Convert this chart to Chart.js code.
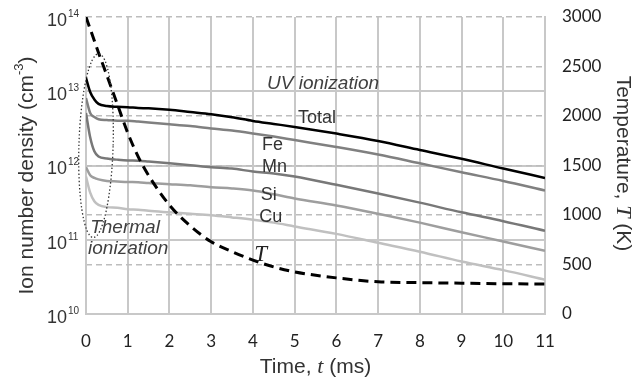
<!DOCTYPE html>
<html>
<head>
<meta charset="utf-8">
<script src="https://cdn.jsdelivr.net/npm/chart.js@4.4.1/dist/chart.umd.min.js"></script>
<style>
  html, body { margin: 0; padding: 0; background: #fff; }
  #wrap { width: 644px; height: 382px; }
</style>
</head>
<body>
<div id="wrap"><canvas id="ionChart"></canvas></div>
<script>
// time (ms)
const times = [0, 0.1, 0.2, 0.3, 0.5, 0.75, 1, 1.25, 1.5, 2, 2.5, 3, 3.5, 4, 4.5, 5, 6, 7, 8, 9, 10, 11];
// ion number density (cm^-3)
const total = [1.51e13, 9.77e12, 7.76e12, 6.76e12, 6.31e12, 6.17e12, 6.1e12, 5.96e12, 5.89e12, 5.62e12, 5.25e12, 4.9e12, 4.47e12, 3.98e12, 3.63e12, 3.31e12, 2.69e12, 2.14e12, 1.62e12, 1.23e12, 9.1e11, 6.8e11];
const fe = [8.1e12, 5.1e12, 4.5e12, 4.2e12, 4.1e12, 4.0e12, 4.0e12, 3.9e12, 3.8e12, 3.6e12, 3.4e12, 3.16e12, 2.95e12, 2.7e12, 2.45e12, 2.2e12, 1.78e12, 1.41e12, 1.07e12, 8.1e11, 6.2e11, 4.6e11];
const mn = [5.1e12, 2.4e12, 1.55e12, 1.32e12, 1.24e12, 1.2e12, 1.17e12, 1.16e12, 1.13e12, 1.07e12, 1.01e12, 9.5e11, 9.1e11, 8.3e11, 7.8e11, 7.1e11, 5.5e11, 4.2e11, 3.16e11, 2.34e11, 1.78e11, 1.32e11];
const si = [9.5e11, 7.4e11, 6.8e11, 6.5e11, 6.2e11, 6.1e11, 6.0e11, 5.96e11, 5.8e11, 5.6e11, 5.4e11, 5.1e11, 4.9e11, 4.6e11, 4.1e11, 3.6e11, 2.9e11, 2.24e11, 1.7e11, 1.26e11, 9.5e10, 7.1e10];
const cu = [7.1e11, 4.3e11, 3.3e11, 2.95e11, 2.75e11, 2.7e11, 2.57e11, 2.54e11, 2.45e11, 2.34e11, 2.24e11, 2.14e11, 2.0e11, 1.86e11, 1.7e11, 1.51e11, 1.2e11, 9.1e10, 6.9e10, 5.1e10, 3.9e10, 2.9e10];
// temperature (K)
const temp = [3000, 2880, 2760, 2640, 2410, 2120, 1830, 1590, 1400, 1100, 890, 730, 630, 545, 475, 425, 365, 325, 317, 311, 306, 303];

const xTicks = [0, 1, 2, 3, 4, 5, 6, 7, 8, 9, 10, 11];
const densityTicks = [1e10, 1e11, 1e12, 1e13, 1e14];
const tempTicks = [0, 500, 1000, 1500, 2000, 2500, 3000];

const pts = arr => times.map((t, i) => ({ x: t, y: arr[i] }));

const SANS = '"Liberation Sans", Arial, sans-serif';
const SERIF = '"Liberation Serif", "Times New Roman", serif';
const NUM = 'Lato, "Open Sans", sans-serif';

// labels placed in data units: [text, t (ms), density]
const curveLabels = [
  ['Total', 5.08, 4.4e12],
  ['Fe', 4.22, 1.9e12],
  ['Mn', 4.22, 9.5e11],
  ['Si', 4.19, 4.0e11],
  ['Cu', 4.15, 2.05e11]
];
const noteLabels = [
  ['UV ionization', 4.34, 1.26e13],
  ['Thermal', 0.1, 1.45e11],
  ['ionization', 0.05, 7.5e10]
];

function drawPieces(ctx, pieces, cx, cy) {
  let w = 0;
  pieces.forEach(p => { ctx.font = p.font; w += ctx.measureText(p.text).width; });
  let px = cx - w / 2;
  pieces.forEach(p => {
    ctx.font = p.font;
    ctx.fillText(p.text, px, cy + (p.dy || 0));
    px += ctx.measureText(p.text).width;
  });
}

const noPad = s => { s.paddingTop = 0; s.paddingBottom = 0; s.paddingLeft = 0; s.paddingRight = 0; };

const decor = {
  id: 'decor',
  afterDatasetsDraw(chart) {
    const { ctx, scales: { x, y } } = chart;
    ctx.save();
    // dotted ellipse around the thermal ionization region
    const cx = x.getPixelForValue(0.24);
    const top = y.getPixelForValue(3.2e13);
    const bot = y.getPixelForValue(1.07e11);
    const rx = x.getPixelForValue(0.24 + 0.41) - cx;
    ctx.setLineDash([1.4, 2.2]);
    ctx.lineWidth = 1.3;
    ctx.strokeStyle = '#333';
    ctx.beginPath();
    ctx.ellipse(cx, (top + bot) / 2, rx, (bot - top) / 2, 0.03, 0, Math.PI * 2);
    ctx.stroke();
    ctx.setLineDash([]);

    ctx.textBaseline = 'middle';
    ctx.textAlign = 'left';
    ctx.fillStyle = '#333';
    ctx.font = '18px ' + SANS;
    curveLabels.forEach(([s, t, n]) => ctx.fillText(s, x.getPixelForValue(t), y.getPixelForValue(n)));
    ctx.fillStyle = '#404040';
    ctx.font = 'italic 19px ' + SANS;
    noteLabels.forEach(([s, t, n]) => ctx.fillText(s, x.getPixelForValue(t), y.getPixelForValue(n)));
    ctx.fillStyle = '#222';
    ctx.font = 'italic 23px ' + SERIF;
    ctx.fillText('T', x.getPixelForValue(4.03), y.getPixelForValue(6.3e10));
    ctx.restore();
  },
  afterDraw(chart) {
    const { ctx, chartArea: a, scales: { y } } = chart;
    ctx.save();
    ctx.fillStyle = '#333';
    // left tick labels 10^n
    densityTicks.forEach(v => {
      const py = y.getPixelForValue(v);
      ctx.textAlign = 'right';
      ctx.textBaseline = 'middle';
      ctx.font = '18px ' + SANS;
      ctx.fillText('10', a.left - 19, py + 4);
      ctx.textAlign = 'left';
      ctx.font = '10px ' + SANS;
      ctx.fillText(String(Math.round(Math.log10(v))), a.left - 18, py - 3);
    });
    ctx.textAlign = 'left';
    ctx.textBaseline = 'middle';
    ctx.fillStyle = '#333';
    // left title
    ctx.save();
    ctx.translate(27, (a.top + a.bottom) / 2 + 10);
    ctx.rotate(-Math.PI / 2);
    drawPieces(ctx, [
      { text: 'Ion number density (cm', font: '21px ' + SANS },
      { text: '-3', font: '13px ' + SANS, dy: -8 },
      { text: ')', font: '21px ' + SANS }
    ], 0, 0);
    ctx.restore();
    // bottom title
    drawPieces(ctx, [
      { text: 'Time, ', font: '21px ' + SANS },
      { text: 't', font: 'italic 22px ' + SERIF },
      { text: ' (ms)', font: '21px ' + SANS }
    ], (a.left + a.right) / 2, 367);
    // right title
    ctx.save();
    ctx.translate(623, (a.top + a.bottom) / 2 - 2);
    ctx.rotate(Math.PI / 2);
    drawPieces(ctx, [
      { text: 'Temperature, ', font: '21px ' + SANS },
      { text: 'T', font: 'italic 22px ' + SERIF },
      { text: ' (K)', font: '21px ' + SANS }
    ], 0, 0);
    ctx.restore();
    ctx.restore();
  }
};

const GRID = '#c8c8c8';

new Chart(document.getElementById('ionChart'), {
  type: 'line',
  data: {
    datasets: [
      { label: 'T', data: pts(temp), yAxisID: 'y2', borderColor: '#000', borderWidth: 3, borderDash: [10, 6], cubicInterpolationMode: 'monotone', pointRadius: 0 },
      { label: 'Total', data: pts(total), yAxisID: 'y', borderColor: '#000', borderWidth: 2.5, cubicInterpolationMode: 'monotone', pointRadius: 0 },
      { label: 'Fe', data: pts(fe), yAxisID: 'y', borderColor: '#808080', borderWidth: 2.5, cubicInterpolationMode: 'monotone', pointRadius: 0 },
      { label: 'Mn', data: pts(mn), yAxisID: 'y', borderColor: '#787878', borderWidth: 2.5, cubicInterpolationMode: 'monotone', pointRadius: 0 },
      { label: 'Si', data: pts(si), yAxisID: 'y', borderColor: '#9e9e9e', borderWidth: 2.5, cubicInterpolationMode: 'monotone', pointRadius: 0 },
      { label: 'Cu', data: pts(cu), yAxisID: 'y', borderColor: '#c0c0c0', borderWidth: 2.5, cubicInterpolationMode: 'monotone', pointRadius: 0 }
    ]
  },
  options: {
    responsive: true,
    maintainAspectRatio: false,
    animation: false,
    layout: { padding: { top: 17, left: 0, right: 0, bottom: 0 } },
    plugins: { legend: { display: false }, tooltip: { enabled: false } },
    scales: {
      x: {
        type: 'linear', min: 0, max: 11,
        afterBuildTicks: s => { s.ticks = xTicks.map(v => ({ value: v })); },
        afterFit: s => { s.height = 68; noPad(s); },
        grid: { color: GRID, lineWidth: 2, drawTicks: false },
        border: { color: GRID, width: 2 },
        ticks: { color: '#222', font: { family: NUM, size: 17 }, padding: 17 }
      },
      y: {
        type: 'logarithmic', position: 'left', min: 1e10, max: 1e14,
        afterBuildTicks: s => { s.ticks = densityTicks.map(v => ({ value: v })); },
        afterFit: s => { s.width = 86; noPad(s); },
        grid: {
          drawTicks: false, lineWidth: 2,
          color: c => (c.tick && (c.tick.value === 1e14 || c.tick.value === 1e10)) ? 'rgba(0,0,0,0)' : GRID
        },
        border: { color: GRID, width: 2 },
        ticks: { display: false }
      },
      y2: {
        type: 'linear', position: 'right', min: 0, max: 3000,
        afterBuildTicks: s => { s.ticks = tempTicks.map(v => ({ value: v })); },
        afterFit: s => { s.width = 99; noPad(s); },
        grid: { drawTicks: false, lineWidth: 1.5, color: c => (c.tick && c.tick.value === 0) ? 'rgba(0,0,0,0)' : '#bdbdbd' },
        border: { color: GRID, width: 2, dash: [6, 4] },
        ticks: { color: '#222', font: { family: NUM, size: 17 }, padding: 17, callback: v => String(v) }
      }
    }
  },
  plugins: [decor]
});
</script>
</body>
</html>
